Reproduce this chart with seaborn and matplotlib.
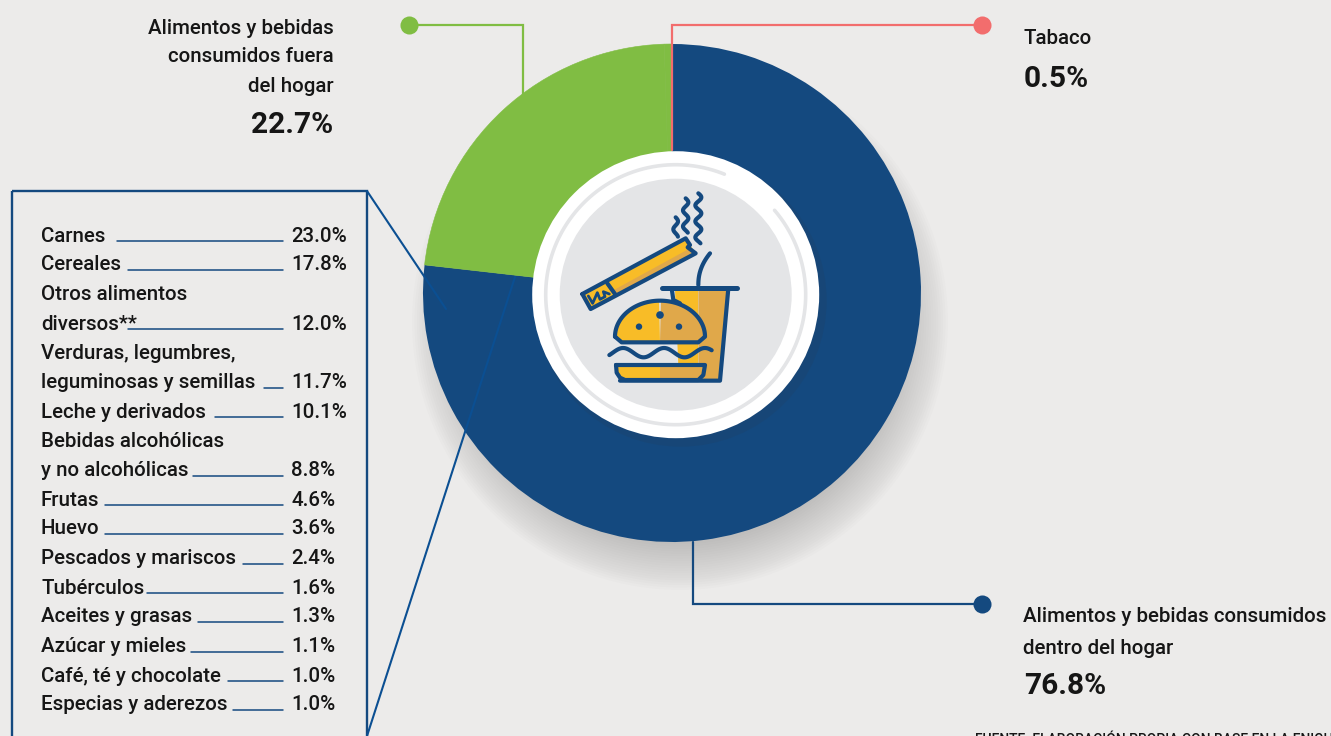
import numpy as np
import seaborn as sns
import matplotlib.pyplot as plt
from matplotlib.patches import Circle, Polygon, Rectangle

# main donut
slice_names = ["Alimentos y bebidas consumidos\ndentro del hogar", "Alimentos y bebidas\nconsumidos fuera\ndel hogar", "Tabaco"]
slice_values = [76.8, 22.7, 0.5]

# breakdown list
food_names = ["Carnes", "Cereales", "Otros alimentos\ndiversos**", "Verduras, legumbres,\nleguminosas y semillas",
              "Leche y derivados", "Bebidas alcohólicas\ny no alcohólicas", "Frutas", "Huevo", "Pescados y mariscos",
              "Tubérculos", "Aceites y grasas", "Azúcar y mieles", "Café, té y chocolate", "Especias y aderezos"]
food_values = [23.0, 17.8, 12.0, 11.7, 10.1, 8.8, 4.6, 3.6, 2.4, 1.6, 1.3, 1.1, 1.0, 1.0]

# layout of the list (pixels)
row_y = [235, 264, 323, 382, 411, 470, 499, 528, 558, 587, 616, 646, 675, 704]
rule_start = [117, 128, 128, 264, 215, 193, 105, 105, 243, 147, 198, 191, 228, 233]

BG = "#ecebea"
NAVY = "#14497f"
LINE = "#0b4f92"
GREEN = "#80bd43"
CORAL = "#f26d6d"
YELLOW = "#f8bc27"
AMBER = "#e0a84a"
GREY = "#e4e5e7"
INK = "#161616"

sns.set_theme(style="white", rc={"figure.facecolor": BG, "axes.facecolor": BG})
plt.rcParams["font.family"] = ["Roboto", "DejaVu Sans"]

fig = plt.figure(figsize=(13.31, 7.36), dpi=100)
ax = fig.add_axes([0, 0, 1, 1])

# soft shadow under the donut
for r in np.linspace(268, 222, 20):
    ax.add_patch(Circle((680, 322), r, color="#333333", alpha=0.011, lw=0, zorder=1))

# y axis is flipped below, so counterclock=True runs clockwise on screen
# the tobacco wedge is only shown through its leader line in the original
colors = sns.color_palette([NAVY, GREEN, GREEN])
wedges, _ = ax.pie(slice_values, colors=colors, center=(672, 293), radius=249, startangle=-90,
                   counterclock=True, frame=True, wedgeprops={"lw": 0, "zorder": 2})
wedges[1].set_edgecolor(GREEN)
wedges[1].set_linewidth(0.4)
wedges[2].set_edgecolor(GREEN)
wedges[2].set_linewidth(0.4)
ax.set_xlim(0, 1331)
ax.set_ylim(736, 0)
ax.set_aspect("auto")
ax.axis("off")

# centre plate
cx, cy = 675.7, 294.7
ax.add_patch(Circle((cx + 5, cy + 6), 146, color="#333333", alpha=0.10, lw=0, zorder=3))
ax.add_patch(Circle((cx, cy), 143.5, color="white", lw=0, zorder=4))
ax.add_patch(Circle((cx, cy), 116, color=GREY, lw=0, zorder=5))
t = np.radians(np.linspace(40.5, 68 - 360, 300))
ax.plot(cx + 130 * np.cos(t), cy - 130 * np.sin(t), color=GREY, lw=2.6, solid_capstyle="round", zorder=5)


def z(x, y):
    return 520 + x / 3, 140 + y / 3


def poly(points, color, order=6, **kw):
    ax.add_patch(Polygon([z(*p) for p in points], closed=True, facecolor=color, lw=0, zorder=order, **kw))


def stroke(xs, ys, order=9, lw=3.0):
    px = 520 + np.asarray(xs) / 3
    py = 140 + np.asarray(ys) / 3
    ax.plot(px, py, color=NAVY, lw=lw, solid_capstyle="round", solid_joinstyle="round", zorder=order)


# cup
poly([(465, 450), (535, 450), (535, 720), (478, 720)], YELLOW)
poly([(535, 450), (625, 450), (600, 720), (535, 720)], AMBER)
stroke([455, 460, 480], [445, 480, 490])
stroke([625, 600, 300], [445, 722, 722])
stroke([425, 650], [443, 443], lw=3.6)
s = np.linspace(0, 1, 30)
stroke(535 + 35 * s ** 2.2, 435 - 95 * s)

# burger top
a = np.radians(np.linspace(180, 0, 80))
top_x = 420 + 135 * np.cos(a)
top_y = 590 - 108 * np.sin(a)
poly(list(zip(top_x[:40], top_y[:40])) + [(420, 607), (305, 607), (285, 590)], YELLOW, order=7)
poly(list(zip(top_x[40:], top_y[40:])) + [(535, 607), (420, 607)], AMBER, order=7)
stroke(list(top_x) + [555, 535, 305, 285], list(top_y) + [590, 607, 607, 590])
for sx, sy, sr in [(357, 560, 3.2), (420, 525, 3.8), (477, 560, 3.2)]:
    ax.add_patch(Circle(z(sx, sy), sr, color=NAVY, lw=0, zorder=10))

# lettuce
wx = np.linspace(268, 575, 120)
stroke(wx, 638 + 14 * np.sin((wx - 268) / 307 * 2 * np.pi * 2.5 + 2.6))

# burger bottom
poly([(288, 678), (420, 678), (420, 720), (315, 720), (295, 705)], YELLOW, order=7)
poly([(420, 678), (555, 678), (548, 708), (535, 720), (420, 720)], AMBER, order=7)
stroke([288, 555, 550, 535, 315, 300, 290, 288], [675, 675, 705, 720, 720, 713, 698, 675])

# cigarette
poly([(187, 462), (497, 295), (527, 340), (212, 507)], YELLOW)
poly([(278, 452), (510, 325), (527, 340), (285, 462)], AMBER)
stroke([187, 497, 510, 503, 527, 212, 187], [462, 295, 315, 322, 340, 507, 462])
stroke([262, 285], [430, 462])
stroke([205, 218, 232, 240, 255, 250, 268], [468, 490, 458, 478, 470, 455, 462], lw=2.0)

# smoke
for x0, y0, y1, amp in [(467, 232, 290, 7), (497, 175, 278, 8), (535, 160, 310, 9)]:
    sy = np.linspace(y0, y1, 80)
    stroke(x0 + amp * np.sin((sy - y0) / 24 * np.pi), sy)

# leader lines
ax.plot([409, 523, 523], [25, 25, 96], color=GREEN, lw=1.6, zorder=3, solid_joinstyle="miter")
ax.plot([409], [25], "o", color=GREEN, ms=13, mew=0, zorder=3)
ax.plot([672, 672, 982], [150, 25, 25], color=CORAL, lw=1.6, zorder=3, solid_joinstyle="miter")
ax.plot([982], [25], "o", color=CORAL, ms=13, mew=0, zorder=3)
ax.plot([693, 693, 982], [542, 604, 604], color=NAVY, lw=1.6, zorder=3, solid_joinstyle="miter")
ax.plot([982], [604], "o", color=NAVY, ms=13, mew=0, zorder=3)

# list box and its two lines to the blue slice
ax.add_patch(Rectangle((11.5, 191), 355.5, 570, fill=False, ec=NAVY, lw=1.7, zorder=3))
ax.plot([367, 446], [191, 309], color=LINE, lw=1.5, zorder=3)
ax.plot([367, 515], [736, 277], color=LINE, lw=1.5, zorder=3)

# slice labels
label = {"fontsize": 14.8, "fontweight": 500, "color": INK, "va": "center"}
big = {"fontsize": 21.5, "fontweight": "bold", "color": INK, "va": "center"}
ax.text(334, 28, "Alimentos y bebidas", ha="right", **label)
ax.text(334, 57, "consumidos fuera", ha="right", **label)
ax.text(334, 86, "del hogar", ha="right", **label)
ax.text(333, 125, f"{slice_values[1]}%", ha="right", **big)
ax.text(1023, 38, slice_names[2], ha="left", **label)
ax.text(1024, 79, f"{slice_values[2]}%", ha="left", **big)
ax.text(1023, 617, "Alimentos y bebidas consumidos", ha="left", **label)
ax.text(1023, 648, "dentro del hogar", ha="left", **label)
ax.text(1024, 686, f"{slice_values[0]}%", ha="left", **big)
ax.text(975, 740, "FUENTE: ELABORACIÓN PROPIA CON BASE EN LA ENIGH", ha="left", va="center", fontsize=10,
        fontweight=500, color=INK)

# breakdown rows
for name, value, y, x0 in zip(food_names, food_values, row_y, rule_start):
    lines = name.split("\n")
    for i, line in enumerate(lines):
        ax.text(41, y + 1 - 29.5 * (len(lines) - 1 - i), line, ha="left", **label)
    ax.plot([x0, 283], [y + 6, y + 6], color=NAVY, lw=1.1, zorder=3)
    ax.text(291, y + 1, f"{value:.1f}%", ha="left", **label)

fig.savefig("out.png", dpi=100, facecolor=BG)
plt.close(fig)
